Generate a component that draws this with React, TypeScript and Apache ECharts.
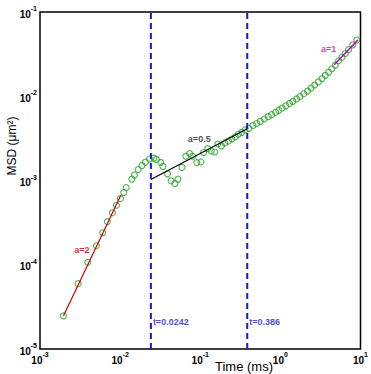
import React, { useEffect, useRef } from "react";
import * as echarts from "echarts";

// Measured MSD curve (time in ms, MSD in µm²)
const times = [
  0.00196, 0.00299, 0.00395, 0.00506, 0.00606, 0.00693, 0.008, 0.009, 0.0101, 0.0111,
  0.0119, 0.014, 0.0151, 0.0168, 0.0187, 0.0207, 0.0233, 0.0264, 0.0284, 0.0321,
  0.0342, 0.0391, 0.0433, 0.0482, 0.0528, 0.0592, 0.066, 0.0736, 0.0803, 0.0905,
  0.102, 0.11, 0.124, 0.137, 0.152, 0.166, 0.184, 0.203, 0.225, 0.248,
  0.274, 0.299, 0.33, 0.362, 0.406, 0.455, 0.506, 0.561, 0.629, 0.706,
  0.777, 0.872, 0.958, 1.05, 1.17, 1.3, 1.43, 1.59, 1.76, 1.96,
  2.18, 2.41, 2.68, 2.98, 3.31, 3.64, 4.0, 4.4, 4.85, 5.33,
  5.86, 6.46, 7.09, 8.02, 8.99,
];
const msd = [
  2.47e-5, 5.96e-5, 1.07e-4, 1.68e-4, 2.4e-4, 3.25e-4, 4.14e-4, 5.08e-4, 6.11e-4, 7.21e-4,
  8.26e-4, 1.04e-3, 1.16e-3, 1.35e-3, 1.5e-3, 1.65e-3, 1.8e-3, 1.84e-3, 1.78e-3, 1.64e-3,
  1.47e-3, 1.2e-3, 9.92e-4, 9.17e-4, 1.04e-3, 1.43e-3, 1.94e-3, 2.09e-3, 1.94e-3, 1.63e-3,
  1.66e-3, 2.15e-3, 2.39e-3, 2.24e-3, 2.18e-3, 2.71e-3, 2.58e-3, 2.79e-3, 2.94e-3, 3.11e-3,
  3.31e-3, 3.54e-3, 3.73e-3, 3.98e-3, 4.16e-3, 4.5e-3, 4.75e-3, 5.04e-3, 5.37e-3, 5.72e-3,
  6.04e-3, 6.45e-3, 6.81e-3, 7.25e-3, 7.7e-3, 8.2e-3, 8.71e-3, 9.3e-3, 9.93e-3, 1.07e-2,
  1.15e-2, 1.25e-2, 1.36e-2, 1.48e-2, 1.62e-2, 1.77e-2, 1.93e-2, 2.12e-2, 2.34e-2, 2.64e-2,
  2.9e-2, 3.22e-2, 3.57e-2, 4.08e-2, 4.65e-2,
];

// Power-law fits (endpoints)
const fitA2 = [[0.00196, 2.47e-5], [0.0102, 6.69e-4]];
const fitA05 = [[0.0242, 1.03e-3], [0.386, 4.11e-3]];
const fitA1 = [[4.7, 0.0236], [9.3, 0.0467]];

// Crossover times
const crossTimes = [0.0242, 0.386];
const crossLabels = ["t=0.0242", "t=0.386"];

// Axis ranges (decades)
const xRange = [0.001, 10];
const yRange = [1e-5, 0.1];

// Annotation anchors [t, msd, text, colour]
const fitLabels: [number, number, string, string][] = [
  [0.00333, 1.5e-4, "a=2", "#c00000"],
  [0.0972, 3.11e-3, "a=0.5", "#1a1a1a"],
  [4.0, 0.0364, "a=1", "#cc00cc"],
];
const crossLabelMsd = 2.09e-5;

const superFmt = (v: number) => {
  const e = Math.round(Math.log10(v));
  return `{b|10}{s|${e}}`;
};
const richTicks = {
  b: { fontSize: 10, fontWeight: "bold", fontFamily: "Liberation Sans, Arial, sans-serif", color: "#000", lineHeight: 14, verticalAlign: "bottom" },
  s: { fontSize: 7, fontWeight: "bold", fontFamily: "Liberation Sans, Arial, sans-serif", color: "#000", lineHeight: 14, verticalAlign: "top" },
};

export default function App() {
  const ref = useRef<HTMLDivElement>(null);
  useEffect(() => {
    if (!ref.current) return;
    const chart = echarts.init(ref.current, undefined, { renderer: "svg" });
    const pts = times.map((t, i) => [t, msd[i]]);
    const series: any[] = [
      {
        type: "scatter",
        data: pts,
        symbol: "circle",
        symbolSize: 6,
        itemStyle: { color: "rgba(0,0,0,0)", borderColor: "#22a022", borderWidth: 1.1 },
        z: 2,
      },
      {
        type: "line",
        data: fitA2,
        symbol: "none",
        lineStyle: { color: "#cc0000", width: 1.2 },
        z: 3,
      },
      {
        type: "line",
        data: fitA05,
        symbol: "none",
        lineStyle: { color: "#000", width: 1.2 },
        z: 3,
      },
      {
        type: "line",
        data: fitA1,
        symbol: "none",
        lineStyle: { color: "#cc00cc", width: 1.5 },
        z: 3,
      },
    ];
    crossTimes.forEach((t, i) => {
      series.push({
        type: "line",
        data: [[t, yRange[0]], [t, yRange[1]]],
        symbol: "none",
        lineStyle: { color: "#1a1ac4", width: 2, type: [6, 4] },
        z: 4,
      });
      series.push({
        type: "scatter",
        data: [[t, crossLabelMsd]],
        symbolSize: 0,
        label: {
          show: true,
          position: "right",
          distance: 2,
          formatter: crossLabels[i],
          color: "#1a1ac4",
          fontSize: 9,
          fontWeight: "bold",
          fontFamily: "Liberation Sans, Arial, sans-serif",
        },
        z: 5,
      });
    });
    series.push({
      type: "scatter",
      data: fitLabels.map((l) => ({
        value: [l[0], l[1]],
        label: { color: l[3], formatter: l[2] },
      })),
      symbolSize: 0,
      label: {
        show: true,
        position: "inside",
        fontSize: 9,
        fontWeight: "bold",
        fontFamily: "Liberation Sans, Arial, sans-serif",
      },
      z: 5,
    });

    chart.setOption({
      animation: false,
      backgroundColor: "#fff",
      grid: {
        left: 40,
        right: 9,
        top: 12,
        bottom: 25,
        show: true,
        borderColor: "#000",
        borderWidth: 1.5,
        backgroundColor: "rgba(0,0,0,0)",
      },
      xAxis: {
        type: "log",
        logBase: 10,
        min: xRange[0],
        max: xRange[1],
        interval: 1,
        axisLine: { show: false },
        axisTick: { show: false },
        splitLine: { show: false },
        minorTick: { show: false },
        axisLabel: { formatter: superFmt, rich: richTicks, margin: 2, showMaxLabel: true, showMinLabel: true },
      },
      yAxis: {
        type: "log",
        logBase: 10,
        min: yRange[0],
        max: yRange[1],
        interval: 1,
        axisLine: { show: false },
        axisTick: { show: false },
        splitLine: { show: false },
        axisLabel: { formatter: superFmt, rich: richTicks, margin: 3, showMaxLabel: true, showMinLabel: true },
      },
      graphic: [
        {
          type: "text",
          x: 244,
          y: 366,
          style: {
            text: "Time (ms)",
            fontSize: 13,
            fontFamily: "Liberation Sans, Arial, sans-serif",
            fill: "#000",
            textAlign: "center",
            textVerticalAlign: "middle",
          },
        },
        {
          type: "text",
          x: 12,
          y: 146,
          rotation: Math.PI / 2,
          style: {
            text: "MSD (μm²)",
            fontSize: 12,
            fontFamily: "Liberation Sans, Arial, sans-serif",
            fill: "#000",
            textAlign: "center",
            textVerticalAlign: "middle",
          },
        },
      ],
      series,
    });
    return () => chart.dispose();
  }, []);
  return (
    <div
      ref={ref}
      style={{ position: "absolute", left: 0, top: 0, width: 371, height: 374 }}
    />
  );
}
